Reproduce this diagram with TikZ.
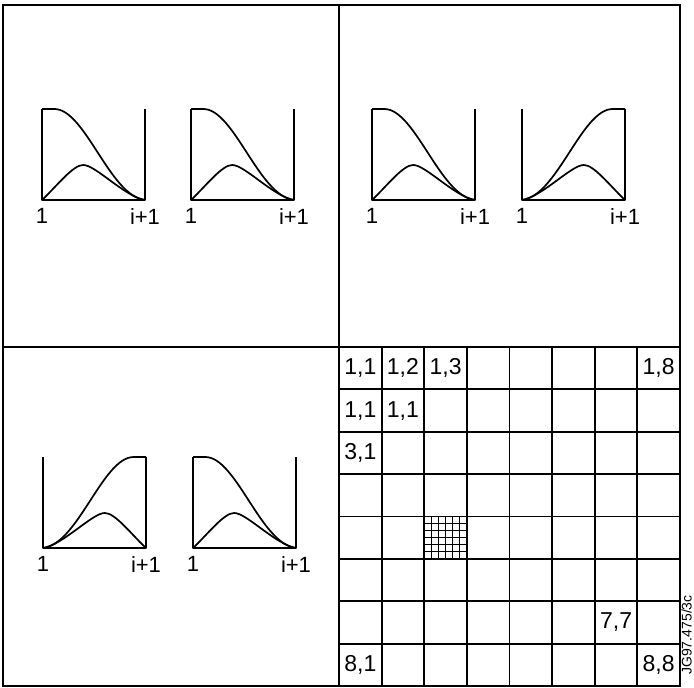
\documentclass[tikz,border=0pt]{standalone}
\usepackage{fontspec}
\setmainfont{Liberation Sans}
\usetikzlibrary{positioning}

\begin{document}
\begin{tikzpicture}[
      x=1pt, y=-1pt,
      frame/.style={line width=2.4pt},
      gridline/.style={line width=1.8pt},
      fineline/.style={line width=1.3pt},
      curve/.style={line width=1.7pt, line join=round},
      tick/.style={font=\fontsize{22}{24}\selectfont, inner sep=0pt, below=8pt},
      cell/.style={font=\fontsize{23}{25}\selectfont, inner sep=0pt},
      decplot/.pic={
        \begin{scope}[x=103pt, y=91pt]
          \draw[curve] (0,1) -- (0,0) -- (1,0) -- (1,1);
          \draw[curve] (0,1) -- (0.12,1) .. controls (0.42,1) and (0.66,0.04) .. (1,0);
          \draw[curve] (0,0) .. controls (0.15,0.16) and (0.3,0.385) .. (0.4,0.385)
                             .. controls (0.52,0.385) and (0.8,0.04) .. (1,0);
          \node[tick] (-one) at (0,0) {1};
          \node[tick] (-end) at (1,0) {i+1};
        \end{scope}
      },
      incplot/.pic={
        \begin{scope}[x=103pt, y=91pt]
          \draw[curve] (0,1) -- (0,0) -- (1,0) -- (1,1);
          \draw[curve] (1,1) -- (0.88,1) .. controls (0.58,1) and (0.34,0.04) .. (0,0);
          \draw[curve] (1,0) .. controls (0.85,0.16) and (0.7,0.385) .. (0.6,0.385)
                             .. controls (0.48,0.385) and (0.2,0.04) .. (0,0);
          \node[tick] (-one) at (0,0) {1};
          \node[tick] (-end) at (1,0) {i+1};
        \end{scope}
      }
    ]
      \useasboundingbox (0,0) rectangle (694,688);

      % quadrants
      \draw[frame] (3,5) rectangle (680,686);
      \draw[frame] (339,5) -- (339,686);
      \draw[frame] (3,347) -- (680,347);

      % plots
      \pic (tla) at (42,200) {decplot};
      \pic (tlb) at (191,200) {decplot};
      \pic (tra) at (372,200) {decplot};
      \pic (trb) at (522,200) {incplot};
      \pic (bla) at (43,548) {incplot};
      \pic (blb) at (193,548) {decplot};

      % 8x8 grid
      \foreach \i in {1,...,7} {
        \draw[gridline] ({339+42.625*\i},347) -- ({339+42.625*\i},686);
        \draw[gridline] (339,{347+42.375*\i}) -- (680,{347+42.375*\i});
      }
      \foreach \i in {1,...,5} {
        \draw[fineline] ({424.25+42.625*\i/6},516.5) -- ({424.25+42.625*\i/6},558.9);
        \draw[fineline] (424.25,{516.5+42.375*\i/6}) -- (466.9,{516.5+42.375*\i/6});
      }

      \foreach \r/\c/\t in {1/1/{1,1}, 1/2/{1,2}, 1/3/{1,3}, 1/8/{1,8},
                            2/1/{1,1}, 2/2/{1,1}, 3/1/{3,1},
                            7/7/{7,7}, 8/1/{8,1}, 8/8/{8,8}}
        \node[cell] (c\r\c) at ({339+42.625*(\c-0.5)},{347+42.375*(\r-0.5)}) {\t};

      \node[rotate=90, inner sep=0pt, font=\fontsize{14}{15}\selectfont] (tag) at (686.5,635) {JG97.475/3c};
    \end{tikzpicture}
\end{document}
